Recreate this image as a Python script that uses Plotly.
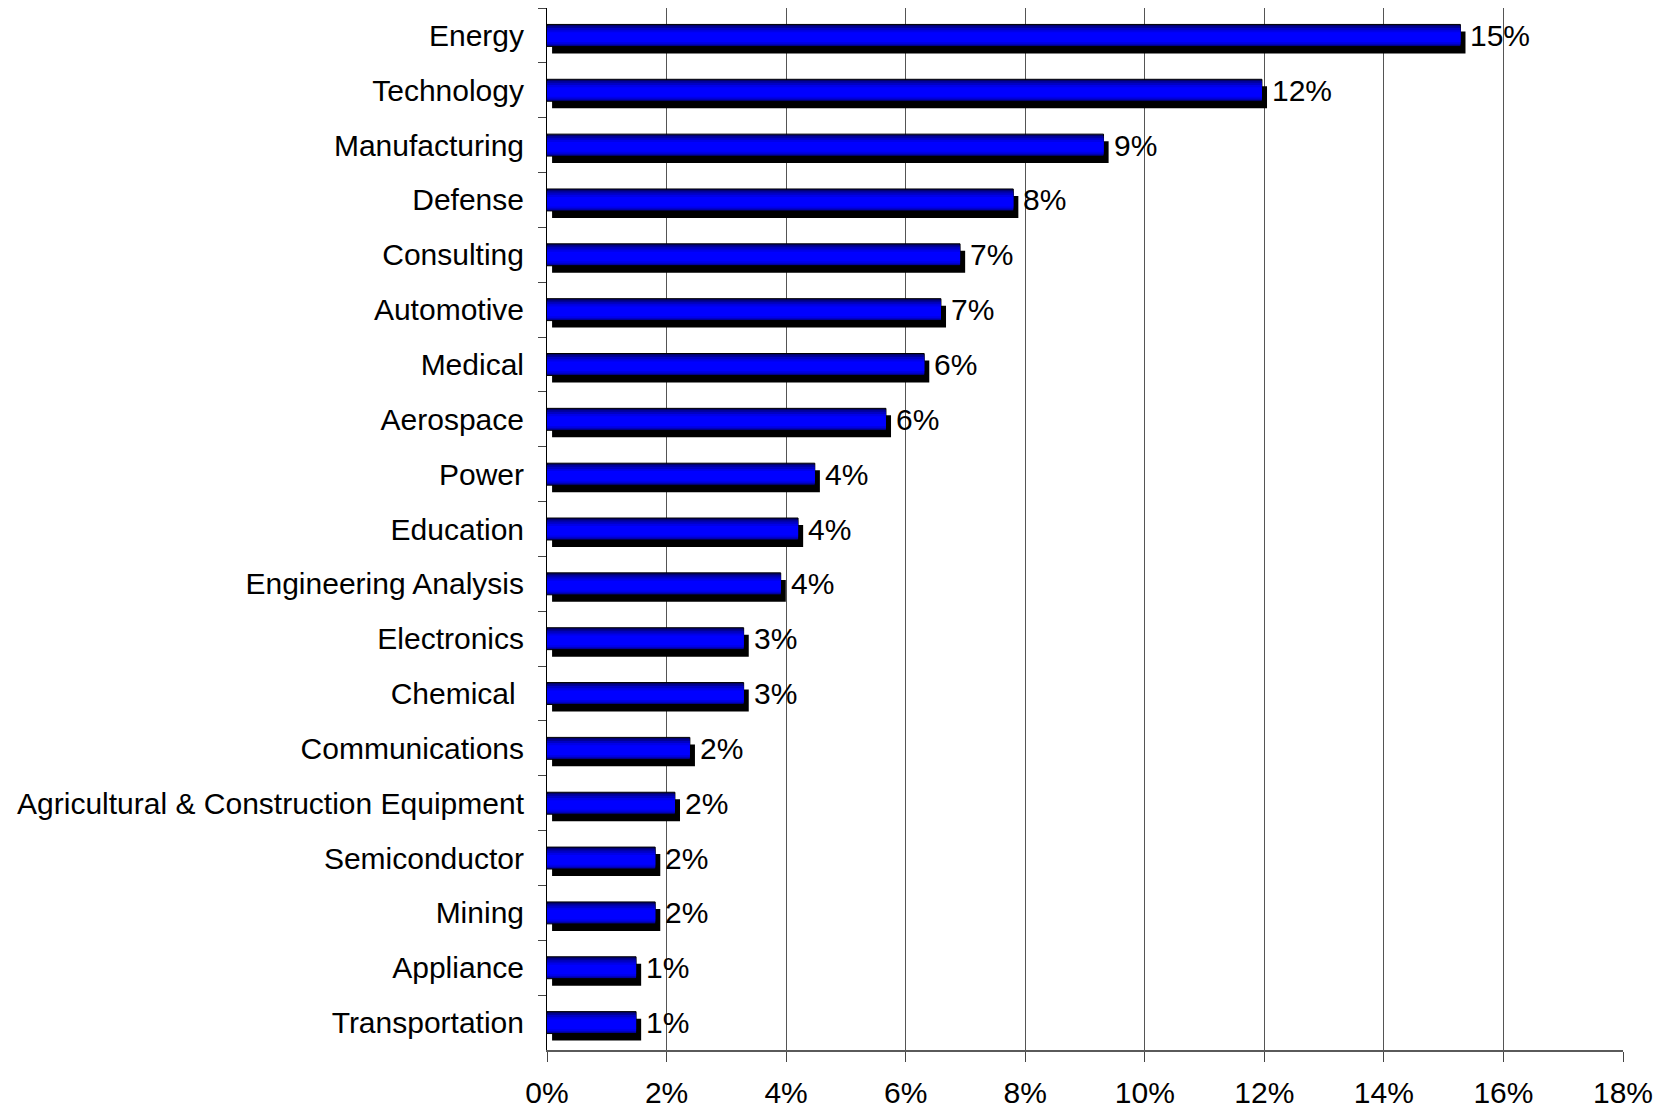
import plotly.graph_objects as go

categories = ["Energy", "Technology", "Manufacturing", "Defense", "Consulting",
              "Automotive", "Medical", "Aerospace", "Power", "Education",
              "Engineering Analysis", "Electronics", "Chemical ", "Communications",
              "Agricultural & Construction Equipment", "Semiconductor", "Mining",
              "Appliance", "Transportation"]
values = [15.28, 11.96, 9.31, 7.80, 6.91, 6.59, 6.31, 5.67, 4.48, 4.20,
          3.91, 3.29, 3.29, 2.39, 2.14, 1.81, 1.81, 1.49, 1.49]
value_labels = ["15%", "12%", "9%", "8%", "7%", "7%", "6%", "6%", "4%", "4%",
                "4%", "3%", "3%", "2%", "2%", "2%", "2%", "1%", "1%"]
x_ticks = [0, 2, 4, 6, 8, 10, 12, 14, 16, 18]

FONT = "Liberation Sans, Arial, sans-serif"
FS = 30
BAR_W = 0.40
SHADOW_DX = 0.085   # in % units
SHADOW_DY = 0.128   # in category units

fig = go.Figure()

# shadow (depth) of the bars
fig.add_trace(go.Bar(
    y=categories, x=values, base=[SHADOW_DX] * len(values), orientation="h",
    width=BAR_W, offset=-BAR_W / 2 + SHADOW_DY,
    marker=dict(color="#000000", line=dict(width=0)),
    hoverinfo="skip", showlegend=False))

# gradient layers of the face (start frac, end frac, colour)
layers = [(0.0, 1.0, "#00006a"), (0.08, 0.97, "#000098"), (0.16, 0.93, "#0000c4"),
          (0.26, 0.88, "#0000e8"), (0.36, 0.80, "#0000ff")]
for i, (a, b, col) in enumerate(layers):
    fig.add_trace(go.Bar(
        y=categories, x=values, orientation="h",
        width=(b - a) * BAR_W, offset=-BAR_W / 2 + a * BAR_W,
        marker=dict(color=col,
                    line=dict(width=1 if i == 0 else 0, color="#000000")),
        hoverinfo="skip", showlegend=False))

for c, v, t in zip(categories, values, value_labels):
    fig.add_annotation(x=v, y=c, text=t, showarrow=False, xanchor="left",
                       xshift=8, yshift=0,
                       font=dict(family=FONT, size=FS, color="#000000"))

fig.update_layout(
    width=1664, height=1108,
    margin=dict(l=547, r=41, t=8, b=58),
    paper_bgcolor="white", plot_bgcolor="white",
    barmode="overlay",
    font=dict(family=FONT, size=FS, color="#000000"),
    showlegend=False,
)
fig.update_xaxes(
    range=[0, 18], tickvals=x_ticks, ticktext=[f"{t}%" for t in x_ticks],
    showgrid=True, gridcolor="#555555", gridwidth=1,
    showline=True, linecolor="#5a5a5a", linewidth=1.5,
    ticks="outside", ticklen=10, tickcolor="#444444",
    zeroline=False, ticklabelstandoff=5, automargin=False,
    tickfont=dict(family=FONT, size=FS, color="#000000"),
)
fig.update_yaxes(
    type="category", categoryorder="array", categoryarray=categories,
    autorange="reversed",
    showgrid=False, showline=True, linecolor="#000000", linewidth=1,
    ticks="outside", tickson="boundaries", ticklen=8, tickcolor="#444444",
    ticklabelstandoff=16, automargin=False,
    tickfont=dict(family=FONT, size=FS, color="#000000"),
)

fig.write_html("out.html")
